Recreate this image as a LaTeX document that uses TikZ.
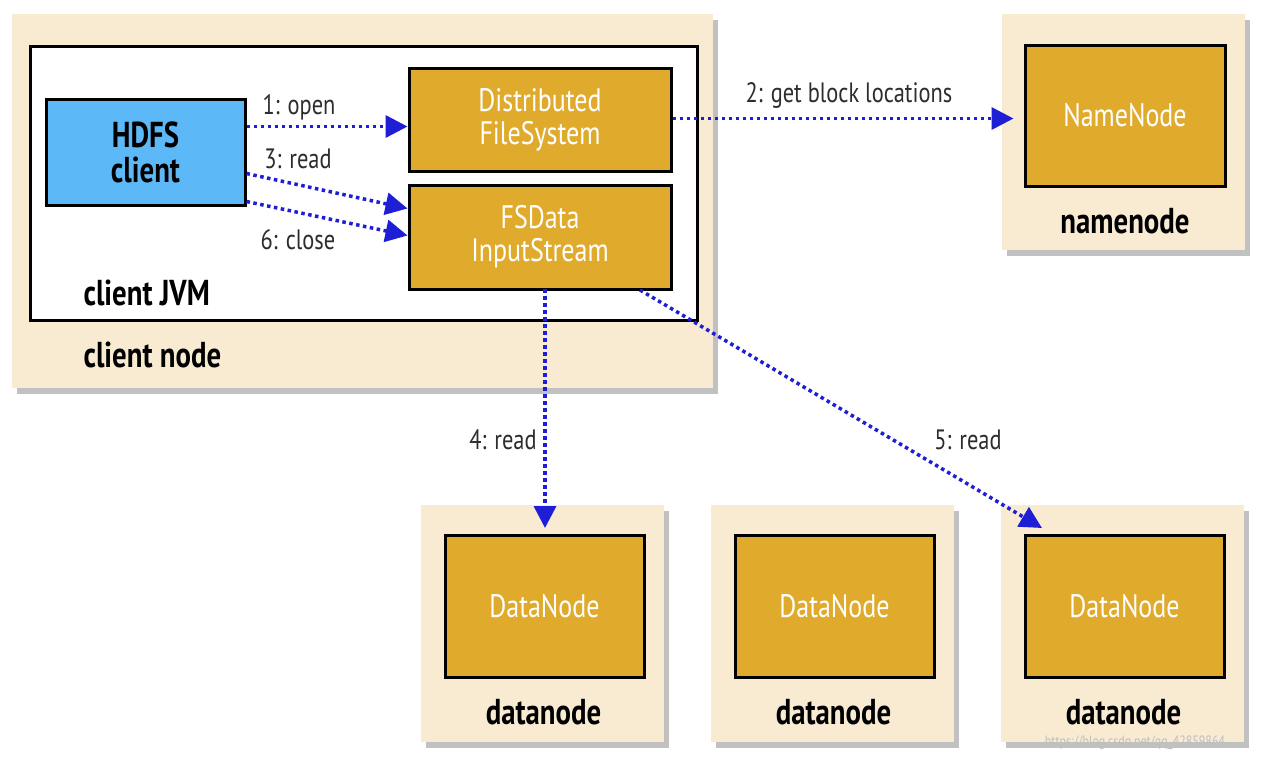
\documentclass[tikz,border=0pt]{standalone}
\usepackage{fontspec}
\setmainfont{PT Sans}[FakeStretch=0.8]
\usetikzlibrary{arrows.meta,shadows,calc}
\definecolor{cream}{RGB}{248,235,210}
\definecolor{gold}{RGB}{224,171,44}
\definecolor{skyblue}{RGB}{93,184,248}
\definecolor{arrowblue}{RGB}{30,30,215}
\definecolor{labelgray}{RGB}{45,45,45}
\tikzset{
  hostbox/.style={fill=cream, draw=none, drop shadow={shadow xshift=5pt, shadow yshift=-6pt, opacity=0.4, fill=black!60}},
  goldbox/.style={fill=gold, draw=black, line width=3pt, text=white, font=\fontsize{32.5}{33}\selectfont, align=center},
  hostlabel/.style={font=\fontsize{36}{36}\selectfont\bfseries, text=black},
  steplabel/.style={font=\fontsize{28}{30}\selectfont, text=labelgray},
  flow/.style={draw=arrowblue, line width=3.5pt, dash pattern=on 3.5pt off 3.5pt, -{Triangle[length=22pt,width=22pt,fill=arrowblue]}}
}
\begin{document}
\begin{tikzpicture}[x=1pt,y=-1pt]
\useasboundingbox (0,0) rectangle (1267,761);
\fill[white] (0,0) rectangle (1267,761);

% client node
\node[hostbox, minimum width=701pt, minimum height=374pt, inner sep=0pt] (clientnode) at (362.5,201) {};
\node[fill=white, draw=black, line width=3pt, minimum width=667pt, minimum height=274pt, inner sep=0pt] (jvm) at (363.5,183) {};
\node[hostlabel, anchor=west] (clientnodelabel) at (80,355) {client node};
\node[hostlabel, anchor=west] (jvmlabel) at (80,293) {client JVM};

\node[fill=skyblue, draw=black, line width=3pt, minimum width=199pt, minimum height=106pt, inner sep=0pt, align=center, font=\fontsize{36}{35}\selectfont\bfseries] (hdfs) at (145.5,152) {HDFS\\client};
\node[goldbox, minimum width=262pt, minimum height=103pt, inner sep=0pt] (dfs) at (540,119.5) {Distributed\\FileSystem};
\node[goldbox, minimum width=262pt, minimum height=104pt, inner sep=0pt] (fsdis) at (540,237) {FSData\\InputStream};

% namenode
\node[hostbox, minimum width=243pt, minimum height=236pt, inner sep=0pt] (namenodehost) at (1123.5,132) {};
\node[goldbox, minimum width=200pt, minimum height=141pt, inner sep=0pt] (nn) at (1125,115.5) {NameNode};
\node[hostlabel] (nnlabel) at (1125,221) {namenode};

% datanodes
\foreach \i/\cx in {1/542.5, 2/832.5, 3/1122.5} {
  \node[hostbox, minimum width=243pt, minimum height=237pt, inner sep=0pt] (dnhost\i) at (\cx,623.5) {};
  \node[goldbox, minimum width=199pt, minimum height=142pt, inner sep=0pt] (dn\i) at (\cx+2,606) {DataNode};
  \node[hostlabel] (dnlabel\i) at (\cx+1,712) {datanode};
}

% connectors
\coordinate (hdfsA) at ([yshift=-29pt]hdfs.north east);
\coordinate (hdfsB) at ([yshift=-76pt]hdfs.north east);
\coordinate (hdfsC) at ([yshift=-104pt]hdfs.north east);
\coordinate (dfsIn) at (dfs.west |- hdfsA);
\coordinate (fsA) at ([yshift=-25pt]fsdis.north west);
\coordinate (fsB) at ([yshift=-52pt]fsdis.north west);
\coordinate (dfsOut) at ([yshift=-52pt]dfs.north east);
\coordinate (nnIn) at ([xshift=-10pt]nn.west |- dfsOut);
\coordinate (fsDown) at (545,289);
\coordinate (dn1In) at (fsDown |- 0,528);
\coordinate (fsDiag) at (640,290);
\coordinate (dn3In) at (1042,528);

\draw[flow] (hdfsA) -- (dfsIn);
\draw[flow] (hdfsB) -- (fsA);
\draw[flow] (hdfsC) -- (fsB);
\draw[flow] (dfsOut) -- (nnIn);
\draw[flow] (fsDown) -- (dn1In);
\draw[flow] (fsDiag) -- (dn3In);

\node[steplabel] (l1) at (299,107) {1: open};
\node[steplabel] (l3) at (298,159) {3: read};
\node[steplabel] (l6) at (298,240) {6: close};
\node[steplabel] (l2) at (849,95) {2: get block locations};
\node[steplabel] (l4) at (503,440) {4: read};
\node[steplabel] (l5) at (968,440) {5: read};

\node[font=\fontsize{15}{18}\selectfont, text=black!25] (wm) at (1135,743) {https://blog.csdn.net/qq\_42859864};
\end{tikzpicture}
\end{document}
